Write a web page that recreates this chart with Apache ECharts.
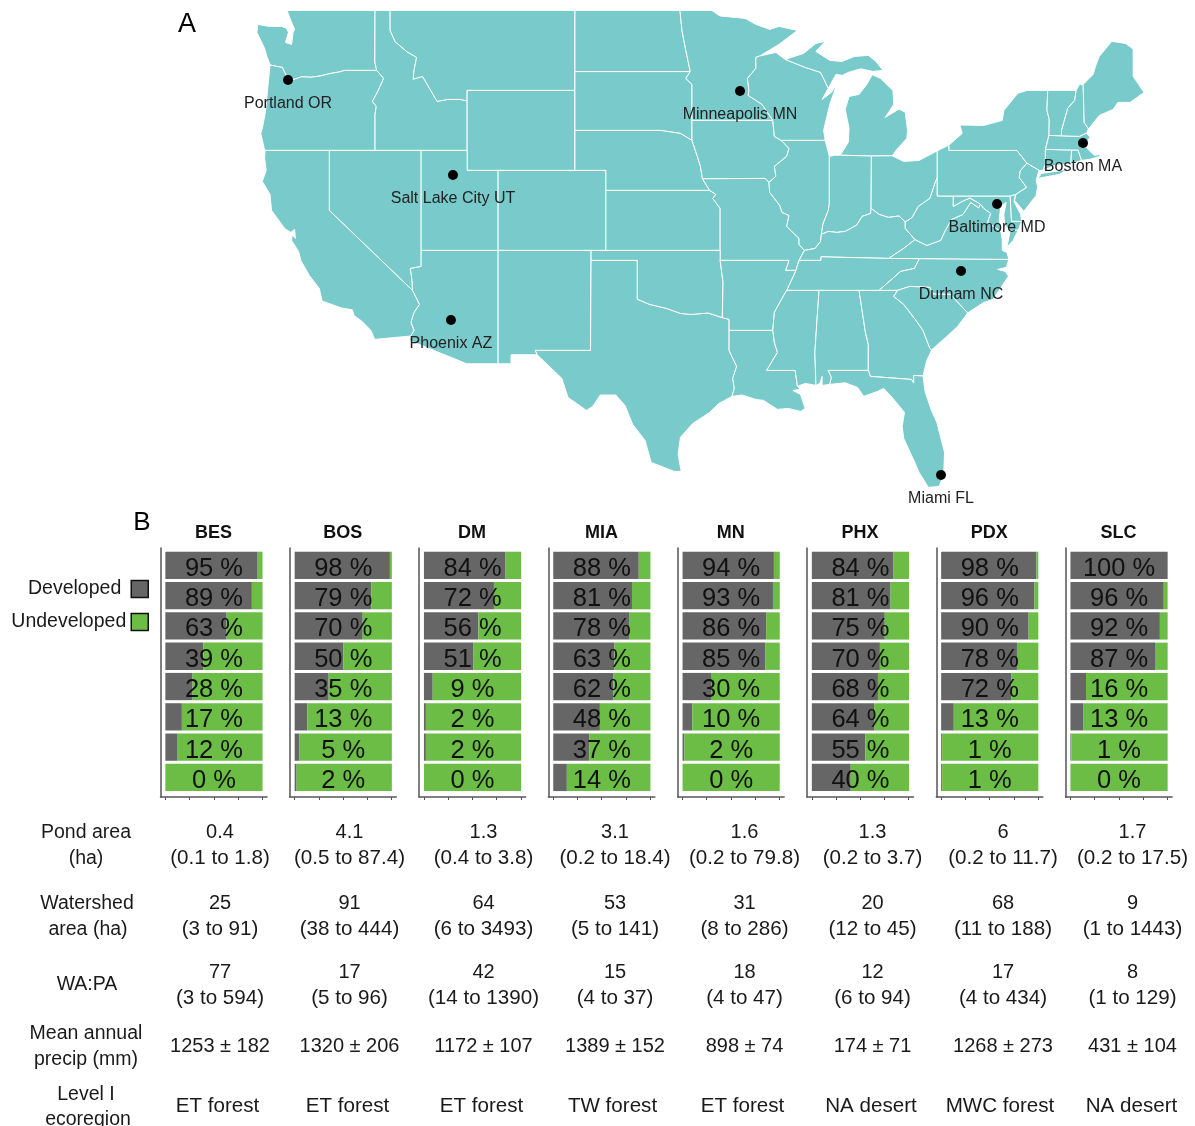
<!DOCTYPE html>
<html>
<head>
<meta charset="utf-8">
<script src="https://cdn.jsdelivr.net/npm/echarts@6/dist/echarts.min.js"></script>
<style>
html, body { margin: 0; padding: 0; background: #fff; }
#chart { width: 1195px; height: 1126px; }
</style>
</head>
<body>
<div id="chart"></div>
<script>
// panel B data, top row to bottom row: percent developed
const sites = ['BES', 'BOS', 'DM', 'MIA', 'MN', 'PHX', 'PDX', 'SLC'];
const bes = [95, 89, 63, 39, 28, 17, 12, 0];
const bos = [98, 79, 70, 50, 35, 13, 5, 2];
const dm = [84, 72, 56, 51, 9, 2, 2, 0];
const mia = [88, 81, 78, 63, 62, 48, 37, 14];
const mn = [94, 93, 86, 85, 30, 10, 2, 0];
const phx = [84, 81, 75, 70, 68, 64, 55, 40];
const pdx = [98, 96, 90, 78, 72, 13, 1, 1];
const slc = [100, 96, 92, 87, 16, 13, 1, 0];
const developed = [bes, bos, dm, mia, mn, phx, pdx, slc];
const rows = ['1', '2', '3', '4', '5', '6', '7', '8'];

// table under the panels
const pondMedian = ['0.4', '4.1', '1.3', '3.1', '1.6', '1.3', '6', '1.7'];
const pondRange = ['(0.1 to 1.8)', '(0.5 to 87.4)', '(0.4 to 3.8)', '(0.2 to 18.4)', '(0.2 to 79.8)', '(0.2 to 3.7)', '(0.2 to 11.7)', '(0.2 to 17.5)'];
const shedMedian = ['25', '91', '64', '53', '31', '20', '68', '9'];
const shedRange = ['(3 to 91)', '(38 to 444)', '(6 to 3493)', '(5 to 141)', '(8 to 286)', '(12 to 45)', '(11 to 188)', '(1 to 1443)'];
const ratioMedian = ['77', '17', '42', '15', '18', '12', '17', '8'];
const ratioRange = ['(3 to 594)', '(5 to 96)', '(14 to 1390)', '(4 to 37)', '(4 to 47)', '(6 to 94)', '(4 to 434)', '(1 to 129)'];
const precip = ['1253 ± 182', '1320 ± 206', '1172 ± 107', '1389 ± 152', '898 ± 74', '174 ± 71', '1268 ± 273', '431 ± 104'];
const ecoregion = ['ET forest', 'ET forest', 'ET forest', 'TW forest', 'ET forest', 'NA desert', 'MWC forest', 'NA desert'];

// cities, lon/lat
const cities = [
    ['Portland OR', -122.68, 45.52],
    ['Minneapolis MN', -93.33, 44.97],
    ['Salt Lake City UT', -111.97, 40.77],
    ['Phoenix AZ', -112.1, 33.52],
    ['Boston MA', -71.06, 42.37],
    ['Baltimore MD', -76.64, 39.32],
    ['Durham NC', -78.98, 35.97],
    ['Miami FL', -80.28, 25.77]
];

// state outlines, lon/lat
const WA = [[-123.85,46.27],[-124.05,46.7],[-124.2,47.1],[-124.7,47.9],[-124.65,48.3],[-123.9,48.2],[-123.1,48.2],[-122.8,48.12],[-122.65,47.9],[-122.85,47.4],[-122.45,47.3],[-122.35,47.9],[-122.25,48.05],[-122.5,48.5],[-122.75,49],[-117.03,49],[-117.04,46.42],[-116.92,46],[-119,46],[-119.3,45.93],[-119.9,45.85],[-120.6,45.72],[-121.2,45.66],[-121.8,45.68],[-122.3,45.55],[-122.72,45.65],[-122.9,45.9],[-123.05,46.15],[-123.4,46.2]];
const OR = [[-123.85,46.27],[-123.4,46.2],[-123.05,46.15],[-122.9,45.9],[-122.72,45.65],[-122.3,45.55],[-121.8,45.68],[-121.2,45.66],[-120.6,45.72],[-119.9,45.85],[-119.3,45.93],[-119,46],[-116.92,46],[-116.47,45.6],[-116.85,44.95],[-117.2,44.45],[-116.95,44.2],[-117.03,43.8],[-117.03,42],[-124.2,42],[-124.45,42.85],[-124.35,43.1],[-124.15,43.9],[-124.05,44.7],[-123.95,45.5]];
const ID = [[-117.03,49],[-116.05,49],[-116.05,48],[-115.72,47.43],[-114.95,46.93],[-114.33,46.65],[-114.5,46],[-114.55,45.56],[-113.95,45.7],[-113.45,45.05],[-113,44.45],[-112.3,44.55],[-111.5,44.55],[-111.05,44.48],[-111.05,42],[-117.03,42],[-117.03,43.8],[-116.95,44.2],[-117.2,44.45],[-116.85,44.95],[-116.47,45.6],[-116.92,46],[-117.04,46.42]];
const MT = [[-116.05,49],[-104.05,49],[-104.05,45],[-111.05,45],[-111.05,44.48],[-111.5,44.55],[-112.3,44.55],[-113,44.45],[-113.45,45.05],[-113.95,45.7],[-114.55,45.56],[-114.5,46],[-114.33,46.65],[-114.95,46.93],[-115.72,47.43],[-116.05,48]];
const WY = [[-111.05,45],[-104.05,45],[-104.05,41],[-111.05,41]];
const ND = [[-104.05,49],[-97.23,49],[-97.1,48],[-96.85,47],[-96.56,45.94],[-104.05,45.94]];
const SD = [[-104.05,45.94],[-96.56,45.94],[-96.85,45.6],[-96.45,45.3],[-96.45,42.5],[-97.2,42.85],[-98.5,43],[-104.05,43]];
const NE = [[-104.05,43],[-98.5,43],[-97.2,42.85],[-96.45,42.5],[-96.1,41.7],[-95.9,41.2],[-95.77,40.58],[-95.3,40],[-102.05,40],[-102.05,41],[-104.05,41]];
const KS = [[-102.05,40],[-95.3,40],[-94.9,39.8],[-95.1,39.6],[-94.62,39.1],[-94.62,37],[-102.05,37]];
const CO = [[-109.05,41],[-102.05,41],[-102.05,37],[-109.05,37]];
const NM = [[-109.05,37],[-103,37],[-103.04,32],[-106.62,32],[-106.5,31.78],[-108.2,31.78],[-108.2,31.33],[-109.05,31.33]];
const UT = [[-114.05,42],[-111.05,42],[-111.05,41],[-109.05,41],[-109.05,37],[-114.05,37]];
const AZ = [[-114.05,37],[-109.05,37],[-109.05,31.33],[-111.07,31.33],[-114.8,32.5],[-114.72,32.72],[-114.5,33],[-114.7,33.4],[-114.5,33.9],[-114.15,34.3],[-114.6,35],[-114.65,35.6],[-114.75,36.1],[-114.05,36.2]];
const NV = [[-120,42],[-114.05,42],[-114.05,36.2],[-114.75,36.1],[-114.65,35.6],[-114.6,35],[-120,39]];
const CA = [[-124.17,42],[-120,42],[-120,39],[-114.6,35],[-114.15,34.3],[-114.5,33.9],[-114.7,33.4],[-114.5,33],[-114.72,32.72],[-117.05,32.55],[-117.3,33],[-117.87,33.45],[-118.4,33.75],[-118.5,34.03],[-119.2,34.12],[-120.47,34.47],[-120.65,35.1],[-121.3,35.75],[-121.85,36.5],[-122,36.95],[-122.45,37.5],[-122.42,37.78],[-122.2,37.6],[-122.25,38.05],[-122.5,37.9],[-122.9,38.1],[-123.75,39],[-123.85,39.8],[-124.35,40.45],[-124.1,41],[-124.2,41.6]];
const MN = [[-97.23,49],[-95.15,49],[-94.8,48.8],[-94.6,48.72],[-93,48.6],[-92.3,48.3],[-91.4,48.05],[-90.8,48.2],[-89.6,48],[-90.8,47.3],[-92.05,46.72],[-92.3,46.65],[-92.3,46.1],[-92.85,45.6],[-92.75,45],[-92.8,44.75],[-91.9,44.3],[-91.2,43.5],[-96.45,43.5],[-96.45,45.3],[-96.85,45.6],[-96.56,45.94],[-96.85,47],[-97.1,48]];
const IA = [[-96.45,43.5],[-91.2,43.5],[-91.1,42.7],[-90.65,42.5],[-90.15,42.1],[-90.3,41.7],[-91.1,41.2],[-91,40.7],[-91.45,40.4],[-91.7,40.6],[-95.77,40.58],[-95.9,41.2],[-96.1,41.7],[-96.45,42.5]];
const MO = [[-95.77,40.58],[-91.7,40.6],[-91.45,40.4],[-91.4,39.9],[-90.75,39.25],[-90.6,38.9],[-90.15,38.75],[-90.3,38.2],[-89.5,37.6],[-89.5,37.3],[-89.15,37],[-89.5,36.5],[-89.7,36],[-90.37,36],[-90.15,36.5],[-94.62,36.5],[-94.62,39.1],[-95.1,39.6],[-94.9,39.8],[-95.3,40]];
const WI = [[-92.05,46.72],[-91,46.9],[-90.4,46.55],[-89.1,46.15],[-88.1,45.9],[-87.75,45.35],[-87.6,45.1],[-88,44.55],[-87.4,44.9],[-87.05,45.3],[-87.5,44.3],[-87.75,43.5],[-87.9,43],[-87.8,42.5],[-90.65,42.5],[-91.1,42.7],[-91.2,43.5],[-91.9,44.3],[-92.8,44.75],[-92.75,45],[-92.85,45.6],[-92.3,46.1],[-92.3,46.65]];
const MI_UP = [[-90.4,46.55],[-89.2,46.85],[-88.4,47.35],[-87.8,47.45],[-88.4,46.95],[-87.5,46.5],[-86.7,46.45],[-85.9,46.7],[-85,46.75],[-84.5,46.45],[-84.05,46],[-84.7,45.95],[-85.5,46.08],[-86.3,45.9],[-86.7,45.75],[-87.1,45.8],[-87.6,45.1],[-87.75,45.35],[-88.1,45.9],[-89.1,46.15]];
const MI_LP = [[-86.82,41.76],[-84.8,41.72],[-83.45,41.73],[-83.15,42.05],[-82.5,42.6],[-82.45,43],[-82.6,43.9],[-83,44.07],[-83.9,43.65],[-83.35,44.3],[-83.4,45],[-84.2,45.6],[-84.75,45.78],[-85.1,45.3],[-85.6,44.8],[-86.25,44.7],[-86.5,44.05],[-86.25,43.1],[-86.3,42.4]];
const IL = [[-90.65,42.5],[-87.8,42.5],[-87.53,41.7],[-87.53,39.35],[-87.6,39],[-87.95,38.3],[-88.05,37.8],[-88.1,37.45],[-88.45,37.1],[-89.15,37],[-89.5,37.3],[-89.5,37.6],[-90.3,38.2],[-90.15,38.75],[-90.6,38.9],[-90.75,39.25],[-91.4,39.9],[-91.45,40.4],[-91,40.7],[-91.1,41.2],[-90.3,41.7],[-90.15,42.1]];
const IN = [[-87.53,41.7],[-87.2,41.76],[-86.82,41.76],[-84.8,41.72],[-84.82,39.1],[-84.85,38.85],[-85.4,38.7],[-85.75,38.27],[-86.25,38.05],[-86.5,37.95],[-87.05,37.9],[-87.6,37.95],[-88.05,37.8],[-87.95,38.3],[-87.6,39],[-87.53,39.35]];
const OH = [[-84.8,41.72],[-83.45,41.73],[-82.7,41.45],[-81.7,41.5],[-80.52,41.98],[-80.52,40.64],[-80.65,40.4],[-81,39.6],[-81.75,39.2],[-82.15,38.65],[-82.6,38.42],[-83,38.72],[-83.7,38.65],[-84.3,38.8],[-84.82,39.1]];
const KY = [[-89.5,36.5],[-89.15,37],[-88.45,37.1],[-88.1,37.45],[-88.05,37.8],[-87.6,37.95],[-87.05,37.9],[-86.5,37.95],[-86.25,38.05],[-85.75,38.27],[-85.4,38.7],[-84.85,38.85],[-84.82,39.1],[-84.3,38.8],[-83.7,38.65],[-83,38.72],[-82.6,38.42],[-82.6,38.1],[-81.97,37.54],[-82.7,37.1],[-83.68,36.6],[-86.5,36.65],[-88.07,36.68],[-88.07,36.5]];
const TN = [[-90.3,35],[-89.7,36],[-89.5,36.5],[-88.07,36.5],[-88.07,36.68],[-86.5,36.65],[-83.68,36.6],[-81.68,36.59],[-82,36.1],[-82.9,35.95],[-84.3,35]];
const NC = [[-81.68,36.59],[-75.87,36.55],[-76.05,36.15],[-76.6,36.05],[-76.1,35.95],[-75.9,35.7],[-76.35,35.2],[-76.9,34.55],[-77.5,34.4],[-78.55,33.87],[-79.67,34.8],[-80.8,34.82],[-81,35.15],[-82.3,35.2],[-83.1,35],[-84.3,35],[-82.9,35.95],[-82,36.1]];
const VA = [[-83.68,36.6],[-81.68,36.59],[-75.87,36.55],[-76,36.9],[-76.3,37],[-76.3,37.55],[-76.4,37.95],[-77.25,38.4],[-77.05,38.85],[-77.5,39.1],[-77.72,39.32],[-77.83,39.13],[-78.35,39.4],[-78.85,38.8],[-79.6,38.55],[-80,38],[-80.3,37.5],[-81.2,37.25],[-81.97,37.54],[-82.7,37.1]];
const VA_SHORE = [[-76,37.15],[-75.8,37.95],[-75.25,38.03],[-75.6,37.5]];
const WV = [[-82.6,38.42],[-82.15,38.65],[-81.75,39.2],[-81,39.6],[-80.65,40.4],[-80.52,40.64],[-80.52,39.72],[-79.48,39.72],[-79.48,39.2],[-78.9,39.45],[-78.4,39.62],[-77.72,39.32],[-77.83,39.13],[-78.35,39.4],[-78.85,38.8],[-79.6,38.55],[-80,38],[-80.3,37.5],[-81.2,37.25],[-81.97,37.54],[-82.6,38.1]];
const MD = [[-79.48,39.72],[-75.79,39.72],[-75.7,38.46],[-75.05,38.45],[-75.25,38.03],[-75.8,37.95],[-76.15,38.3],[-76.2,38.8],[-76.05,39.4],[-76.4,39.2],[-76.5,38.5],[-76.4,37.95],[-77.25,38.4],[-77.05,38.85],[-77.5,39.1],[-77.72,39.32],[-78.4,39.62],[-78.9,39.45],[-79.48,39.2]];
const DE = [[-75.79,39.72],[-75.42,39.8],[-75.55,39.45],[-75.1,38.8],[-75.05,38.45],[-75.7,38.46]];
const PA = [[-80.52,41.98],[-79.76,42.27],[-79.76,42],[-75.35,42],[-74.7,41.36],[-75.13,40.98],[-75.2,40.65],[-74.72,40.15],[-75.42,39.8],[-75.79,39.72],[-80.52,39.72]];
const NY = [[-79.76,42.27],[-78.9,42.85],[-79.05,43.27],[-77.5,43.25],[-76.3,43.5],[-76.2,44],[-75.3,44.85],[-74.7,45],[-73.35,45],[-73.4,44],[-73.25,43.55],[-73.27,42.75],[-73.5,42.05],[-73.5,41.3],[-73.65,41],[-73.92,41],[-74.7,41.36],[-75.35,42],[-79.76,42]];
const LI = [[-74,40.6],[-73.75,40.85],[-72.6,40.98],[-72,41.08],[-72.6,40.8]];
const NJ = [[-74.7,41.36],[-73.92,41],[-74.1,40.5],[-74,40.2],[-74.1,39.75],[-74.9,38.95],[-75.5,39.5],[-75.42,39.8],[-74.72,40.15],[-75.2,40.65],[-75.13,40.98]];
const CT = [[-73.5,42.05],[-71.8,42.02],[-71.85,41.32],[-72.9,41.25],[-73.65,41],[-73.5,41.3]];
const RI = [[-71.8,42.02],[-71.38,42.02],[-71.15,41.5],[-71.85,41.32]];
const MA = [[-73.5,42.05],[-73.27,42.75],[-72.46,42.73],[-71.3,42.7],[-70.82,42.87],[-70.6,42.65],[-71,42.3],[-70.6,41.95],[-70.3,41.75],[-70,41.8],[-70.05,42.05],[-69.95,41.7],[-70.65,41.55],[-71.15,41.5],[-71.38,42.02],[-71.8,42.02]];
const VT = [[-73.35,45],[-71.5,45],[-71.6,44.5],[-72.05,44.1],[-72.45,43],[-72.46,42.73],[-73.27,42.75],[-73.25,43.55],[-73.4,44]];
const NH = [[-71.5,45],[-71.3,45.3],[-71.05,45.3],[-70.98,43.4],[-70.7,43.07],[-70.82,42.87],[-71.3,42.7],[-72.46,42.73],[-72.45,43],[-72.05,44.1],[-71.6,44.5]];
const ME = [[-71.05,45.3],[-70.4,45.8],[-70.25,46.2],[-70,46.7],[-69.2,47.45],[-68.3,47.35],[-67.8,47.07],[-67.8,45.7],[-67.45,45.3],[-67.1,44.9],[-68,44.4],[-68.8,44.4],[-69.1,44.05],[-70,43.75],[-70.7,43.07],[-70.98,43.4]];
const TX = [[-106.62,32],[-103.04,32],[-103,36.5],[-100,36.5],[-100,34.56],[-99.2,34.3],[-98.1,34.1],[-97.2,33.85],[-96.5,33.8],[-95.4,33.87],[-94.48,33.64],[-94.04,33.55],[-94.04,32],[-93.55,31.2],[-93.8,30.6],[-93.7,30.1],[-93.85,29.7],[-94.7,29.35],[-95.3,28.9],[-96.4,28.35],[-97.2,27.65],[-97.35,26.8],[-97.15,25.95],[-97.6,25.95],[-99.1,26.4],[-99.5,27.5],[-100.3,28.3],[-100.8,29.25],[-101.4,29.77],[-102.4,29.77],[-102.9,29.2],[-103.3,29],[-104.5,29.65],[-104.9,30.6],[-106.5,31.78]];
const OK = [[-103,37],[-94.62,37],[-94.62,36.5],[-94.43,35.4],[-94.48,33.64],[-95.4,33.87],[-96.5,33.8],[-97.2,33.85],[-98.1,34.1],[-99.2,34.3],[-100,34.56],[-100,36.5],[-103,36.5]];
const AR = [[-94.62,36.5],[-90.15,36.5],[-90.37,36],[-89.7,36],[-90.3,35],[-90.6,34.6],[-91.1,33.9],[-91.2,33],[-94.04,33],[-94.04,33.55],[-94.48,33.64],[-94.43,35.4]];
const LA = [[-94.04,33],[-91.2,33],[-91.1,32.4],[-90.9,31.9],[-91.6,31],[-89.75,31],[-89.6,30.2],[-89.4,30.05],[-89.9,30],[-89.4,29.8],[-89.1,29.1],[-89.4,28.95],[-90.2,29.1],[-90.9,29.05],[-91.8,29.5],[-92.3,29.55],[-93.2,29.77],[-93.85,29.7],[-93.7,30.1],[-93.8,30.6],[-93.55,31.2],[-94.04,32]];
const MS = [[-90.3,35],[-88.2,35],[-88.47,31.9],[-88.4,30.25],[-89.1,30.35],[-89.6,30.2],[-89.75,31],[-91.6,31],[-90.9,31.9],[-91.1,32.4],[-91.2,33],[-91.1,33.9],[-90.6,34.6]];
const AL = [[-88.2,35],[-85.6,35],[-85.18,32.87],[-85,32.3],[-85,31],[-87.6,31],[-87.4,30.65],[-87.5,30.3],[-88,30.25],[-88,30.7],[-88.15,30.35],[-88.4,30.25],[-88.47,31.9]];
const GA = [[-85.6,35],[-83.1,35],[-83.35,34.7],[-82.7,34.3],[-81.9,33.5],[-81.45,33],[-81,32.1],[-80.88,32.03],[-81.2,31.5],[-81.45,30.72],[-82.05,30.75],[-82.05,30.37],[-82.2,30.55],[-84.86,30.7],[-85,31],[-85,32.3],[-85.18,32.87]];
const SC = [[-83.1,35],[-82.3,35.2],[-81,35.15],[-80.8,34.82],[-79.67,34.8],[-78.55,33.87],[-79.2,33.2],[-79.9,32.7],[-80.88,32.03],[-81,32.1],[-81.45,33],[-81.9,33.5],[-82.7,34.3],[-83.35,34.7]];
const FL = [[-87.6,31],[-85,31],[-84.86,30.7],[-82.2,30.55],[-82.05,30.37],[-82.05,30.75],[-81.45,30.72],[-81.3,29.9],[-80.9,29],[-80.55,28.4],[-80.05,26.9],[-80.1,25.8],[-80.4,25.2],[-81.1,25.15],[-81.7,25.9],[-82.1,26.6],[-82.7,27.6],[-82.8,28.2],[-82.65,28.9],[-83.4,29.6],[-84,30.1],[-84.4,29.95],[-85.3,29.7],[-85.7,30.15],[-86.5,30.38],[-87.5,30.3],[-87.4,30.65]];

const stateRings = { WA, OR, ID, MT, WY, ND, SD, NE, KS, CO, NM, UT, AZ, NV, CA, MN, IA, MO, WI, MI_UP, MI_LP, IL, IN, OH, KY, TN, NC, VA, VA_SHORE, WV, MD, DE, PA, NY, LI, NJ, CT, RI, MA, VT, NH, ME, TX, OK, AR, LA, MS, AL, GA, SC, FL };

const usaGeo = {
    type: 'FeatureCollection',
    features: Object.keys(stateRings).map(name => ({
        type: 'Feature',
        properties: { name: name },
        geometry: { type: 'Polygon', coordinates: [stateRings[name].concat([stateRings[name][0]])] }
    }))
};
echarts.registerMap('usa', usaGeo);

const TEXT_FONT = '"Liberation Sans", Arial, sans-serif';
const GREY = '#666666';
const GREEN = '#6bbd45';
const panelStep = 129.3;
const axisLeft = 160.5;

let grids = [], xAxes = [], yAxes = [], series = [], titles = [];

sites.forEach((site, i) => {
    let left = axisLeft + i * panelStep;
    // outer grid only carries the axis lines, they stick out past the bars
    grids.push({ left: left, top: 548, width: 106.5, height: 249 });
    xAxes.push({
        gridIndex: i * 2, type: 'value', min: -5, max: 105,
        axisLine: { show: true, onZero: false, lineStyle: { color: '#555', width: 1.5 } },
        axisTick: { show: true, length: 3, customValues: [0, 25, 50, 75, 100], lineStyle: { color: '#555', width: 1 } },
        axisLabel: { show: false },
        splitLine: { show: false }
    });
    yAxes.push({
        gridIndex: i * 2, type: 'value', min: 0, max: 1,
        axisLine: { show: true, onZero: false, lineStyle: { color: '#555', width: 1.5 } },
        axisTick: { show: false },
        axisLabel: { show: false },
        splitLine: { show: false }
    });
    // inner grid holds the bars
    grids.push({ left: left + 4.85, top: 550.2, width: 97.2, height: 242.4 });
    xAxes.push({ gridIndex: i * 2 + 1, type: 'value', min: 0, max: 100, show: false });
    yAxes.push({ gridIndex: i * 2 + 1, type: 'category', data: rows, inverse: true, show: false });

    let dev = developed[i];
    series.push({
        name: 'Developed', type: 'bar', stack: site, xAxisIndex: i * 2 + 1, yAxisIndex: i * 2 + 1,
        barCategoryGap: '10%', itemStyle: { color: GREY }, data: dev, silent: true
    });
    series.push({
        name: 'Undeveloped', type: 'bar', stack: site, xAxisIndex: i * 2 + 1, yAxisIndex: i * 2 + 1,
        barCategoryGap: '10%', itemStyle: { color: GREEN }, data: dev.map(d => 100 - d), silent: true
    });
    series.push({
        type: 'scatter', xAxisIndex: i * 2 + 1, yAxisIndex: i * 2 + 1, symbolSize: 1, z: 5, silent: true,
        itemStyle: { color: 'transparent', opacity: 1 },
        data: dev.map((d, j) => [50, j]),
        label: {
            show: true, position: 'inside', offset: [0, 3.5],
            formatter: p => dev[p.dataIndex] + ' %',
            fontFamily: TEXT_FONT, fontSize: 25.5, color: '#111', opacity: 1
        }
    });
    titles.push({
        text: site, left: left + 53, top: 524, textAlign: 'center', padding: 0,
        textStyle: { fontFamily: TEXT_FONT, fontSize: 18, fontWeight: 'bold', color: '#111' }
    });
});

series.push({
    type: 'scatter', coordinateSystem: 'geo', geoIndex: 0, symbolSize: 10, silent: true,
    itemStyle: { color: '#000', opacity: 1 },
    data: cities.map(c => ({ name: c[0], value: [c[1], c[2]] })),
    label: {
        show: true, position: 'inside', offset: [0, 23.5], formatter: '{b}',
        fontFamily: TEXT_FONT, fontSize: 16, color: '#222'
    }
});

// table text
const colCenters = [220, 349.5, 483.5, 615, 744.5, 872.5, 1003, 1132.5];
const forestCenters = [217.5, 347.5, 481.5, 612.5, 742.5, 871, 1000, 1131.5];
const tableRows = [
    { y: 832, cells: pondMedian, xs: colCenters, size: 20 },
    { y: 858, cells: pondRange, xs: colCenters, size: 20.6 },
    { y: 903, cells: shedMedian, xs: colCenters, size: 20 },
    { y: 929, cells: shedRange, xs: colCenters, size: 20.6 },
    { y: 972, cells: ratioMedian, xs: colCenters, size: 20 },
    { y: 998, cells: ratioRange, xs: colCenters, size: 20.6 },
    { y: 1046, cells: precip, xs: colCenters, size: 20 },
    { y: 1106, cells: ecoregion, xs: forestCenters, size: 20.6 }
];
const rowLabels = [
    ['Pond area', 86, 833], ['(ha)', 86, 859],
    ['Watershed', 87, 904], ['area (ha)', 88, 930],
    ['WA:PA', 87, 985],
    ['Mean annual', 86, 1034], ['precip (mm)', 86, 1060],
    ['Level I', 86, 1095], ['ecoregion', 88, 1120]
];

function tableText(str, x, y, size) {
    return {
        type: 'text', x: x, y: y, silent: true,
        style: { text: str, fill: '#1a1a1a', font: size + 'px ' + TEXT_FONT, textAlign: 'center', textVerticalAlign: 'middle' }
    };
}
let textEls = [];
tableRows.forEach(r => r.cells.forEach((c, i) => textEls.push(tableText(c, r.xs[i], r.y, r.size))));
rowLabels.forEach(l => textEls.push(tableText(l[0], l[1], l[2], 19.5)));
textEls.push({ type: 'text', x: 187, y: 25, silent: true, style: { text: 'A', fill: '#000', font: '27px ' + TEXT_FONT, textAlign: 'center', textVerticalAlign: 'middle' } });
textEls.push({ type: 'text', x: 142, y: 523, silent: true, style: { text: 'B', fill: '#000', font: '26px ' + TEXT_FONT, textAlign: 'center', textVerticalAlign: 'middle' } });

const chart = echarts.init(document.getElementById('chart'));
chart.setOption({
    animation: false,
    backgroundColor: '#fff',
    title: titles,
    legend: {
        orient: 'vertical', align: 'right', right: 1195 - 149, top: 579, padding: 0,
        itemWidth: 17, itemHeight: 17, itemGap: 13, selectedMode: false,
        textStyle: { fontFamily: TEXT_FONT, fontSize: 19.5, color: '#1a1a1a' },
        data: [
            { name: 'Developed', icon: 'rect', itemStyle: { color: GREY, borderColor: '#111', borderWidth: 1.5 }, textStyle: { padding: [0, 5, 0, 0] } },
            { name: 'Undeveloped', icon: 'rect', itemStyle: { color: GREEN, borderColor: '#111', borderWidth: 1.5 } }
        ]
    },
    geo: {
        map: 'usa', roam: false, silent: true,
        boundingCoords: [[-125, 49.5], [-66, 24.5]],
        aspectScale: 0.77,
        left: 252.3, top: 0.4, width: 908.6, height: 500,
        label: { show: false },
        itemStyle: { areaColor: '#79cbcb', borderColor: '#fff', borderWidth: 1 },
        emphasis: { disabled: true }
    },
    grid: grids,
    xAxis: xAxes,
    yAxis: yAxes,
    series: series,
    graphic: { elements: textEls }
});
</script>
</body>
</html>
